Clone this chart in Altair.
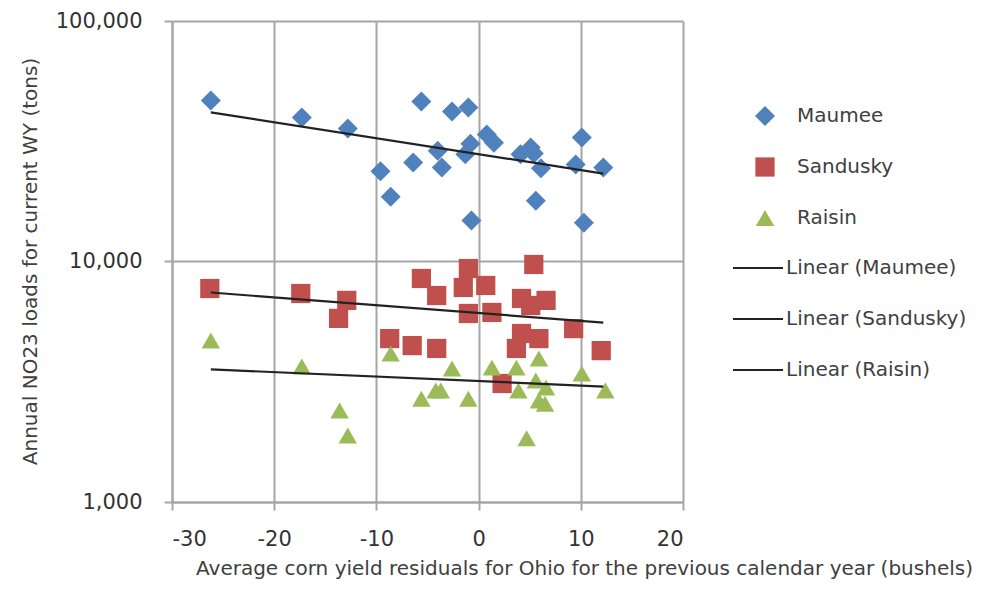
import altair as alt
import pandas as pd

series = ["Maumee", "Sandusky", "Raisin"]
colors = ["#4F81BD", "#C0504D", "#9BBB59"]
shapes = ["diamond", "square", "triangle-up"]
marker_sizes = [400, 340, 380]

maumee_x = [-26.2, -17.3, -12.8, -9.6, -8.6, -6.4, -5.6, -2.6, -1.0, -4.0, -3.6, -1.3, -0.8,
            0.8, 1.5, -0.7, 4.1, 5.1, 5.4, 6.1, 5.6, 10.1, 9.5, 10.3, 12.2]
maumee_y = [46700, 39700, 35700, 23700, 18600, 25800, 46300, 42000, 43700, 28900, 24600, 27900, 30900,
            33700, 31200, 14800, 27900, 29800, 28100, 24400, 17900, 32800, 25300, 14500, 24600]

sandusky_x = [-26.3, -17.4, -12.9, -13.7, -8.7, -6.5, -4.1, -5.6, -4.1, -1.0, -1.5, 0.7, -1.0, 1.3,
              5.4, 4.2, 6.6, 5.1, 9.3, 4.2, 5.9, 3.7, 12.0, 2.3]
sandusky_y = [7720, 7360, 6890, 5800, 4780, 4470, 4350, 8500, 7220, 9350, 7800, 7950, 6080, 6140,
              9720, 7020, 6890, 6560, 5260, 5020, 4780, 4350, 4260, 3110]

raisin_x = [-26.2, -17.3, -13.6, -12.8, -8.6, -5.6, -4.2, -3.7, -2.6, -1.0, 1.3, 3.7, 5.9, 5.6,
            5.9, 4.7, 10.1, 12.4, 6.6, 3.9, 6.5]
raisin_y = [4690, 3660, 2400, 1890, 4140, 2690, 2910, 2910, 3590, 2690, 3620, 3620, 3950, 3200,
            2640, 1840, 3420, 2910, 2990, 2910, 2560]

trend_names = ["Linear (Maumee)", "Linear (Sandusky)", "Linear (Raisin)"]
trend_x = [-26.2, 12.2]
maumee_trend = [41700, 23200]
sandusky_trend = [7430, 5570]
raisin_trend = [3560, 3020]

x_ticks = [-30, -20, -10, 0, 10, 20]
y_ticks = [1000, 10000, 100000]

x_title = "Average corn yield residuals for Ohio for the previous calendar year (bushels)"
y_title = "Annual NO23 loads for current WY (tons)"

FONT = "DejaVu Sans"
TXT = "#404040"
GRID = "#A6A6A6"

rows = []
for name, xs, ys in zip(series, [maumee_x, sandusky_x, raisin_x], [maumee_y, sandusky_y, raisin_y]):
    for a, b in zip(xs, ys):
        rows.append({"series": name, "x": a, "y": b})
points_df = pd.DataFrame(rows)

trows = []
for name, ys in zip(trend_names, [maumee_trend, sandusky_trend, raisin_trend]):
    for a, b in zip(trend_x, ys):
        trows.append({"trend": name, "x": a, "y": b})
trend_df = pd.DataFrame(trows)

x_enc = alt.X(
    "x:Q",
    scale=alt.Scale(domain=[-30, 20], nice=False, zero=False),
    axis=alt.Axis(
        values=x_ticks, title=x_title, grid=True,
        labelExpr="replace(datum.label, '\u2212', '-')",
        titleX=412, titleY=66, titleAlign="center", titleBaseline="middle",
        labelPadding=18,
    ),
)
y_enc = alt.Y(
    "y:Q",
    scale=alt.Scale(type="log", domain=[1000, 100000], nice=False),
    axis=alt.Axis(
        values=y_ticks, format=",", title=y_title, grid=True,
        titleX=-142, titleY=240, titleAngle=270, titleAlign="center", titleBaseline="middle",
        labelPadding=22,
    ),
)

point_legend = alt.Legend(
    title=None, orient="none", legendX=583, legendY=85, padding=0,
    symbolSize=160, symbolStrokeWidth=0, rowPadding=31, labelOffset=22,
    labelFont=FONT, labelFontSize=20, labelColor=TXT, labelLimit=400,
)

points = alt.Chart(points_df).mark_point(filled=True, opacity=1, strokeWidth=0).encode(
    x=x_enc,
    y=y_enc,
    color=alt.Color("series:N", scale=alt.Scale(domain=series, range=colors), legend=point_legend),
    shape=alt.Shape("series:N", scale=alt.Scale(domain=series, range=shapes), legend=point_legend),
    size=alt.Size("series:N", scale=alt.Scale(domain=series, range=marker_sizes), legend=None),
)

line_legend = alt.Legend(
    title=None, orient="none", legendX=560, legendY=221, padding=0,
    symbolType="stroke", symbolSize=2500, symbolStrokeWidth=2, rowPadding=15, labelOffset=2,
    labelFont=FONT, labelFontSize=20, labelColor=TXT, labelLimit=400,
)

lines = alt.Chart(trend_df).mark_line(strokeWidth=2.2).encode(
    x="x:Q",
    y="y:Q",
    color=alt.Color("trend:N", scale=alt.Scale(domain=trend_names, range=["#222222"] * 3), legend=line_legend),
)

chart = alt.layer(points, lines).resolve_scale(
    color="independent", shape="independent", size="independent"
).properties(
    width=511,
    height=481,
    autosize=alt.AutoSizeParams(type="none"),
    padding={"left": 164, "top": 13, "right": 317, "bottom": 80},
).configure_view(strokeWidth=0).configure_axis(
    gridColor=GRID, gridWidth=2, gridOpacity=1,
    domainColor=GRID, domainWidth=2,
    tickColor=GRID, tickWidth=2, tickSize=8,
    labelFont=FONT, labelFontSize=21, labelColor="#333333",
    titleFont=FONT, titleFontSize=20, titleFontWeight="normal", titleColor=TXT,
)

chart.save("out.html", embed_options={"renderer": "svg", "actions": False})
